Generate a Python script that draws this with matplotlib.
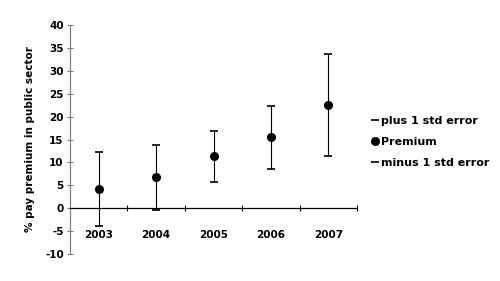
import numpy as np
import matplotlib.pyplot as plt

years = ['2003', '2004', '2005', '2006', '2007']
premium = [4.2, 6.8, 11.3, 15.5, 22.5]
plus_se = [12.3, 13.9, 16.9, 22.3, 33.6]
minus_se = [-3.9, -0.4, 5.7, 8.5, 11.5]

plt.rcParams['font.family'] = 'DejaVu Sans'
plt.rcParams['font.weight'] = 'bold'
plt.rcParams['axes.labelweight'] = 'bold'
plt.rcParams['axes.unicode_minus'] = False

fig = plt.figure(figsize=(5, 2.81), dpi=100)
ax = fig.add_axes([0.14, 0.096, 0.574, 0.815])

x = np.arange(len(years))

# high-low lines between the two error series
ax.vlines(x, minus_se, plus_se, color='black', linewidth=0.8)
ax.plot(x, plus_se, linestyle='none', marker='_', markersize=6,
        markeredgewidth=1.2, color='black', label='plus 1 std error')
ax.plot(x, premium, linestyle='none', marker='o', markersize=5.5,
        color='black', label='Premium')
ax.plot(x, minus_se, linestyle='none', marker='_', markersize=6,
        markeredgewidth=1.2, color='black', label='minus 1 std error')

ax.set_xlim(-0.5, len(years) - 0.5)
ax.set_ylim(-10, 40)
ax.set_yticks(np.arange(-10, 41, 5))

# category axis sits at y = 0
ax.spines['bottom'].set_position(('data', 0))
ax.spines['top'].set_visible(False)
ax.spines['right'].set_visible(False)
ax.spines['left'].set_color('#808080')
ax.spines['bottom'].set_color('black')
ax.spines['left'].set_linewidth(0.9)
ax.spines['bottom'].set_linewidth(0.9)

ax.set_xticks(x)
ax.set_xticklabels(years)
ax.set_xticks(np.arange(0.5, len(years), 1.0), minor=True)
ax.tick_params(axis='x', which='major', length=0, pad=16, labelsize=7.5)
ax.tick_params(axis='x', which='minor', direction='inout', length=5,
               width=0.8, color='black')
ax.tick_params(axis='y', direction='inout', length=5, width=0.8,
               color='#808080', labelsize=7.5, pad=2)

ax.set_ylabel('% pay premium in public sector', fontsize=7.5, labelpad=7)

fig.legend(loc='center left', bbox_to_anchor=(0.735, 0.495), frameon=False,
           fontsize=8, handlelength=0.5, handletextpad=0.35,
           labelspacing=1.0, borderaxespad=0)

fig.savefig('out.png', dpi=100)
